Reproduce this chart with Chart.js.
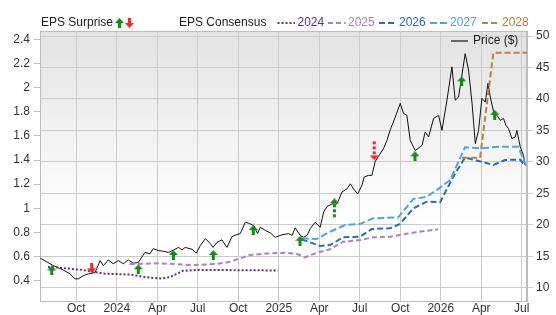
<!DOCTYPE html>
<html>
<head>
<meta charset="utf-8">
<script src="https://cdn.jsdelivr.net/npm/chart.js@4/dist/chart.umd.min.js"></script>
<style>
  html, body { margin: 0; padding: 0; background: #fff; }
  #wrap { width: 556px; height: 315px; }
</style>
</head>
<body>
<div id="wrap"><canvas id="chart" width="556" height="315"></canvas></div>
<script>
// x values are months counted from Jan 2023 (9 = Oct 2023, 12 = Jan 2024 ...)
const tickMonths = [9, 12, 15, 18, 21, 24, 27, 30, 33, 36, 39, 42];
const tickLabels = ['Oct', '2024', 'Apr', 'Jul', 'Oct', '2025', 'Apr', 'Jul', 'Oct', '2026', 'Apr', 'Jul'];
const epsTicks = [0.4, 0.6, 0.8, 1, 1.2, 1.4, 1.6, 1.8, 2, 2.2, 2.4];
const priceTicks = [10, 15, 20, 25, 30, 35, 40, 45, 50];

const priceMonths = [
  6.33, 7.30, 8.04, 8.53, 8.90, 9.15, 9.52, 9.89, 10.39, 10.76,
  11.00, 11.37, 11.74, 12.11, 12.48, 12.85, 13.22, 13.59, 14.09, 14.46,
  14.70, 15.07, 15.40, 15.84, 16.58, 16.83, 17.07, 17.57, 17.89, 18.19,
  18.56, 18.93, 19.13, 19.42, 19.79, 20.16, 20.53, 20.90, 21.15, 21.52,
  21.76, 22.13, 22.43, 22.63, 23.00, 23.37, 23.74, 24.24, 24.73, 24.98,
  25.22, 25.59, 25.84, 26.09, 26.33, 26.70, 27.07, 27.32, 27.57, 27.94,
  28.31, 28.68, 29.05, 29.30, 29.54, 29.84, 30.16, 30.33, 30.65, 30.90,
  31.15, 31.76, 32.01, 32.26, 32.63, 33.00, 33.24, 33.49, 33.74, 34.11,
  34.61, 34.85, 35.10, 35.47, 35.84, 36.09, 36.46, 36.83, 37.07, 37.32,
  37.81, 38.06, 38.31, 38.56, 38.80, 39.05, 39.30, 39.50, 39.67, 39.92,
  40.16, 40.41, 40.65, 40.83, 41.02, 41.27, 41.52, 41.64, 41.89, 42.13,
  42.26
];
const priceValues = [
  14.7, 13.5, 12.8, 12.2, 11.4, 11.4, 11.9, 12.2, 12.4, 14.3,
  13.5, 14.4, 13.8, 14.3, 13.8, 14.4, 13.9, 14.0, 15.6, 15.4,
  16.2, 15.9, 15.8, 15.6, 16.4, 16.0, 16.4, 16.1, 15.5, 16.7,
  17.8, 17.0, 16.4, 17.2, 17.6, 16.4, 18.1, 18.45, 18.6, 20.4,
  20.25, 19.9, 18.6, 19.6, 19.1, 18.7, 18.0, 18.4, 18.6, 18.3,
  19.5, 18.3, 18.0, 18.3, 19.4, 20.4, 19.6, 22.0, 22.9, 23.3,
  23.3, 25.2, 25.7, 26.5, 25.7, 24.9, 26.25, 27.6, 27.85, 27.85,
  30.1, 32.1, 33.4, 35.1, 37.1, 39.3, 37.7, 37.4, 33.4, 31.8,
  32.6, 34.75, 33.95, 36.9, 37.4, 35.0, 39.8, 45.1, 39.8, 40.3,
  47.2, 44.6, 39.5, 32.9, 35.0, 40.1, 39.5, 42.5, 40.3, 37.9,
  37.4, 36.6, 36.9, 35.8, 35.3, 33.7, 33.95, 35.0, 32.4, 31.0,
  29.4
];

const eps2024Months = [6.90, 7.64, 8.63, 9.37, 10.11, 11.10, 12.09, 13.07, 14.07, 14.81, 15.35, 15.94, 16.39, 16.90, 18.16, 21.35, 23.94];
const eps2024Values = [0.513, 0.510, 0.497, 0.490, 0.477, 0.458, 0.455, 0.450, 0.431, 0.422, 0.418, 0.430, 0.455, 0.482, 0.490, 0.487, 0.485];

const eps2025Months = [12.96, 15.20, 17.65, 19.28, 20.39, 21.87, 22.98, 24.61, 25.35, 25.95, 26.82, 27.79, 28.76, 30.02, 30.98, 32.24, 33.94, 34.98, 35.80];
const eps2025Values = [0.538, 0.544, 0.530, 0.538, 0.557, 0.613, 0.625, 0.632, 0.621, 0.594, 0.632, 0.660, 0.723, 0.737, 0.760, 0.765, 0.798, 0.814, 0.826];

const eps2026Months = [25.70, 27.06, 27.80, 28.78, 30.02, 30.89, 32.24, 32.98, 33.97, 34.96, 35.95, 36.93, 37.80, 39.04, 39.90, 40.76, 41.87, 42.24];
const eps2026Values = [0.743, 0.688, 0.696, 0.760, 0.765, 0.828, 0.834, 0.870, 1.000, 1.055, 1.050, 1.262, 1.421, 1.386, 1.359, 1.400, 1.404, 1.354];

const eps2027Months = [25.70, 26.81, 27.80, 28.91, 30.02, 31.00, 32.85, 33.97, 34.96, 35.70, 36.69, 37.80, 39.04, 40.27, 41.75, 42.24];
const eps2027Values = [0.751, 0.746, 0.806, 0.861, 0.870, 0.917, 0.925, 1.077, 1.096, 1.151, 1.234, 1.505, 1.497, 1.510, 1.510, 1.375];

const eps2028Months = [37.58, 38.91, 39.90, 42.40];
const eps2028Values = [1.419, 1.419, 2.289, 2.289];

const surpriseMonths = [7.18, 10.14, 13.59, 16.19, 19.15, 22.11, 25.57, 28.12, 31.07, 34.09, 37.55, 40.00];
const surpriseValues = [0.485, 0.503, 0.495, 0.613, 0.613, 0.820, 0.731, 1.000, 1.480, 1.431, 2.052, 1.775];
const surpriseDir = [1, -1, 1, 1, 1, 1, 1, 1, -1, 1, 1, 1];
const surpriseBig = [0, 0, 0, 0, 0, 0, 0, 1, 1, 0, 0, 0];

const GREEN = '#178a17', RED = '#ff2424';
const yearColors = { 2024: '#5c2e8c', 2025: '#a882c6', 2026: '#2b6cb3', 2027: '#4fa6da', 2028: '#b5823f' };
const yearDash = { 2024: [2, 2], 2025: [5, 3], 2026: [6, 3], 2027: [7, 3], 2028: [6, 3] };

function pts(xs, ys) { return xs.map((x, i) => ({ x: x, y: ys[i] })); }

function makeArrow(color, dir, big) {
  const w = 9, h = big ? 20 : 10;
  const c = document.createElement('canvas');
  c.width = w; c.height = h;
  const g = c.getContext('2d');
  g.fillStyle = color;
  if (dir < 0) { g.translate(0, h); g.scale(1, -1); }
  g.beginPath(); g.moveTo(4.5, 0); g.lineTo(9, 5); g.lineTo(0, 5); g.closePath(); g.fill();
  if (big) { for (let y = 6; y < h; y += 5) g.fillRect(3, y, 3, 3); }
  else g.fillRect(3, 5, 3, 5);
  return c;
}

const arrowImgs = surpriseDir.map((d, i) => makeArrow(d > 0 ? GREEN : RED, d, surpriseBig[i]));

function epsLine(year, xs, ys) {
  return {
    label: String(year), data: pts(xs, ys), yAxisID: 'yL',
    borderColor: yearColors[year], borderWidth: 2, borderDash: yearDash[year],
    pointRadius: 0, tension: 0, fill: false
  };
}

const decor = {
  id: 'decor',
  beforeDraw(chart) {
    const { ctx, chartArea: a } = chart;
    const g = ctx.createLinearGradient(0, a.top, 0, a.bottom);
    g.addColorStop(0, '#e3e3e3');
    g.addColorStop(0.72, '#ffffff');
    g.addColorStop(1, '#ffffff');
    ctx.save();
    ctx.fillStyle = g;
    ctx.fillRect(a.left, a.top, a.right - a.left, a.bottom - a.top);
    ctx.restore();
  },
  beforeDatasetsDraw(chart) {
    const { ctx, chartArea: a } = chart;
    ctx.save();
    ctx.strokeStyle = '#bdbdbd';
    ctx.lineWidth = 1;
    ctx.strokeRect(a.left + 0.5, a.top + 0.5, a.right - a.left - 1, a.bottom - a.top);
    ctx.restore();
  },
  afterDraw(chart) {
    const ctx = chart.ctx;
    ctx.save();
    ctx.font = '12px Arial, "Liberation Sans", sans-serif';
    ctx.textBaseline = 'middle';
    ctx.fillStyle = '#222';
    ctx.fillText('EPS Surprise', 41, 23);
    ctx.drawImage(makeArrow(GREEN, 1, 0), 115, 18);
    ctx.drawImage(makeArrow(RED, -1, 0), 125, 18);
    ctx.fillText('EPS Consensus', 179, 23);
    const starts = [277.5, 328, 379, 430, 482];
    [2024, 2025, 2026, 2027, 2028].forEach((yr, i) => {
      ctx.strokeStyle = yearColors[yr];
      ctx.lineWidth = 2;
      ctx.setLineDash(yearDash[yr]);
      ctx.beginPath(); ctx.moveTo(starts[i], 23); ctx.lineTo(starts[i] + 17.5, 23); ctx.stroke();
      ctx.setLineDash([]);
      ctx.fillStyle = yearColors[yr];
      ctx.fillText(String(yr), starts[i] + 20, 23);
    });
    // price legend inside the plot
    ctx.strokeStyle = '#666';
    ctx.lineWidth = 2;
    ctx.beginPath(); ctx.moveTo(451, 41); ctx.lineTo(468, 41); ctx.stroke();
    ctx.fillStyle = '#222';
    ctx.fillText('Price ($)', 473, 41);
    ctx.restore();
  }
};

const chart = new Chart(document.getElementById('chart'), {
  type: 'line',
  data: {
    datasets: [
      {
        label: 'EPS Surprise', type: 'scatter', data: pts(surpriseMonths, surpriseValues), yAxisID: 'yL',
        pointStyle: arrowImgs, pointRadius: 5, showLine: false
      },
      epsLine(2028, eps2028Months, eps2028Values),
      epsLine(2027, eps2027Months, eps2027Values),
      epsLine(2026, eps2026Months, eps2026Values),
      epsLine(2025, eps2025Months, eps2025Values),
      epsLine(2024, eps2024Months, eps2024Values),
      {
        label: 'Price ($)', data: pts(priceMonths, priceValues), yAxisID: 'yR',
        borderColor: '#111', borderWidth: 1, pointRadius: 0, tension: 0, fill: false
      }
    ]
  },
  options: {
    responsive: false,
    animation: false,
    devicePixelRatio: 1,
    layout: { padding: { top: 31, left: 0, right: 0, bottom: 0 } },
    plugins: { legend: { display: false }, tooltip: { enabled: false } },
    font: { family: 'Arial, "Liberation Sans", sans-serif', size: 12 },
    scales: {
      x: {
        type: 'linear', min: 6.31, max: 42.39,
        afterBuildTicks: s => { s.ticks = tickMonths.map(v => ({ value: v })); },
        afterFit: s => { s.height = 14; },
        ticks: {
          callback: (v, i) => tickLabels[i], autoSkip: false, maxRotation: 0, padding: 0,
          color: '#333', font: { family: 'Arial, "Liberation Sans", sans-serif', size: 12 }
        },
        grid: { color: '#cccccc', drawTicks: false },
        border: { color: '#bdbdbd' }
      },
      yL: {
        type: 'linear', position: 'left', min: 0.232, max: 2.469,
        afterBuildTicks: s => { s.ticks = epsTicks.map(v => ({ value: v })); },
        afterFit: s => { s.width = 40; },
        ticks: {
          callback: v => String(+v.toFixed(1)), padding: 4,
          color: '#333', font: { family: 'Arial, "Liberation Sans", sans-serif', size: 12 }
        },
        grid: { drawOnChartArea: false, tickLength: 6, color: '#bdbdbd' },
        border: { color: '#bdbdbd' }
      },
      yR: {
        type: 'linear', position: 'right', min: 7.88, max: 50.8,
        afterBuildTicks: s => { s.ticks = priceTicks.map(v => ({ value: v })); },
        afterFit: s => { s.width = 29; },
        ticks: {
          padding: 3,
          color: '#333', font: { family: 'Arial, "Liberation Sans", sans-serif', size: 12 }
        },
        grid: { color: '#cccccc', tickLength: 6 },
        border: { color: '#bdbdbd' }
      }
    }
  },
  plugins: [decor]
});
</script>
</body>
</html>
